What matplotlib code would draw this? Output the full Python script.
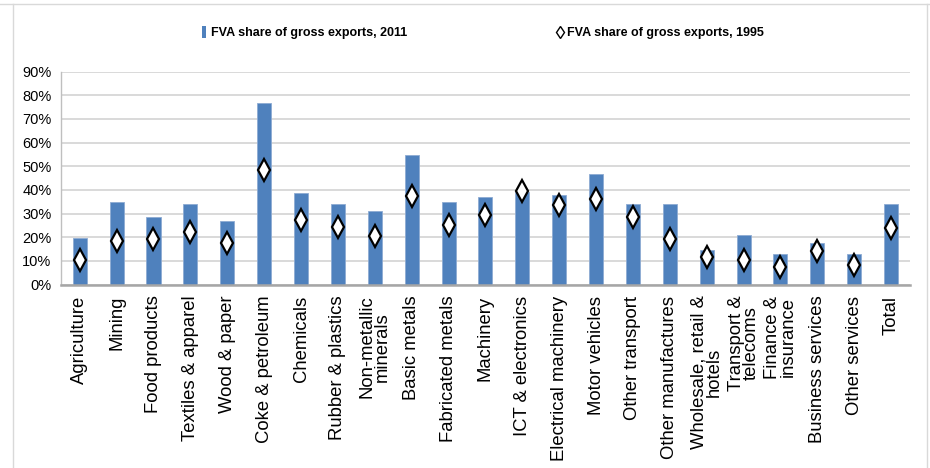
import matplotlib
matplotlib.use("Agg")
import matplotlib.pyplot as plt
from matplotlib.lines import Line2D
from matplotlib.path import Path
from matplotlib.ticker import FuncFormatter
import numpy as np

categories = [
    "Agriculture", "Mining", "Food products", "Textiles & apparel", "Wood & paper",
    "Coke & petroleum", "Chemicals", "Rubber & plastics", "Non-metallic\nminerals",
    "Basic metals", "Fabricated metals", "Machinery", "ICT & electronics",
    "Electrical machinery", "Motor vehicles", "Other transport", "Other manufactures",
    "Wholesale, retail &\nhotels", "Transport &\ntelecoms", "Finance &\ninsurance",
    "Business services", "Other services", "Total",
]
fva_2011 = [19.6, 34.9, 28.4, 34.1, 26.8, 76.6, 38.5, 34.1, 31.2, 54.6, 34.9, 37.1,
            39.2, 37.8, 46.7, 34.1, 34.1, 14.4, 21.0, 12.9, 17.4, 12.9, 34.1]
fva_1995 = [10.4, 18.4, 19.2, 22.2, 17.7, 48.4, 27.2, 24.4, 20.6, 37.4, 25.1, 29.4,
            39.6, 33.6, 36.0, 28.6, 19.2, 11.7, 10.4, 7.5, 14.2, 8.2, 23.7]
y_ticks = [0, 10, 20, 30, 40, 50, 60, 70, 80, 90]
legend_labels = ["FVA share of gross exports, 2011", "FVA share of gross exports, 1995"]

BLUE = "#4f81bd"
REG = ["Liberation Sans", "DejaVu Sans"]

fig = plt.figure(figsize=(9.3, 4.68), dpi=100)
W, H = 930.0, 468.0

# chart border (light grey frame)
fig.add_artist(Line2D([0, 1], [1 - 4 / H, 1 - 4 / H], transform=fig.transFigure, color="#d9d9d9", lw=1))
fig.add_artist(Line2D([13 / W, 13 / W], [-0.01, 1 - 4 / H], transform=fig.transFigure, color="#d9d9d9", lw=1))
fig.add_artist(Line2D([927 / W, 927 / W], [-0.01, 1 - 4 / H], transform=fig.transFigure, color="#d9d9d9", lw=1))

left, right = 61.3 / W, 909.5 / W
bottom, top = 1 - 284.5 / H, 1 - 71.5 / H
ax = fig.add_axes([left, bottom, right - left, top - bottom])

x = np.arange(len(categories))
ax.bar(x, fva_2011, width=0.38, color=BLUE, edgecolor="#8eabd3", linewidth=0.6, zorder=2)
ax.plot(x, fva_1995, linestyle="none", marker="d", markersize=11, markerfacecolor="white",
        markeredgecolor="black", markeredgewidth=1.6, zorder=3)

ax.set_xlim(-0.5, len(categories) - 0.5)
ax.set_ylim(0, 90)
ax.set_yticks(y_ticks)
ax.yaxis.set_major_formatter(FuncFormatter(lambda v, p: f"{int(v)}%"))
ax.grid(axis="y", color="#d9d9d9", linewidth=1.4, zorder=0)
ax.set_axisbelow(True)

for s in ["top", "right"]:
    ax.spines[s].set_visible(False)
ax.spines["left"].set_color("#bfbfbf")
ax.spines["left"].set_linewidth(1.0)
ax.spines["bottom"].set_color("#a6a6a6")
ax.spines["bottom"].set_linewidth(1.8)
ax.spines["bottom"].set_zorder(4)

ax.tick_params(axis="y", length=0, pad=7)
ax.tick_params(axis="x", length=0, pad=8)
for lab in ax.get_yticklabels():
    lab.set_fontfamily(REG)
    lab.set_fontsize(10.5)
    lab.set_color("black")

ax.set_xticks(x)
ax.set_xticklabels(categories, rotation=90, fontsize=13.3, family=REG, linespacing=0.85,
                   ha="center", va="top", multialignment="center")

# legend
bar_verts = [(-0.17, -0.5), (0.17, -0.5), (0.17, 0.5), (-0.17, 0.5), (-0.17, -0.5)]
bar_marker = Path(bar_verts, closed=True)
h1 = Line2D([], [], linestyle="none", marker=bar_marker, markersize=9, markerfacecolor=BLUE,
            markeredgecolor=BLUE, markeredgewidth=0)
h2 = Line2D([], [], linestyle="none", marker="d", markersize=6.5, markerfacecolor="white",
            markeredgecolor="black", markeredgewidth=1.0)
fig.legend([h1, h2], legend_labels, ncol=2, loc="center", bbox_to_anchor=(482 / W, 1 - 33 / H),
           frameon=False, handlelength=0.6, handletextpad=0.3, columnspacing=11.9,
           prop={"family": REG, "weight": "bold", "size": 9})

fig.savefig("out.png", dpi=100)
